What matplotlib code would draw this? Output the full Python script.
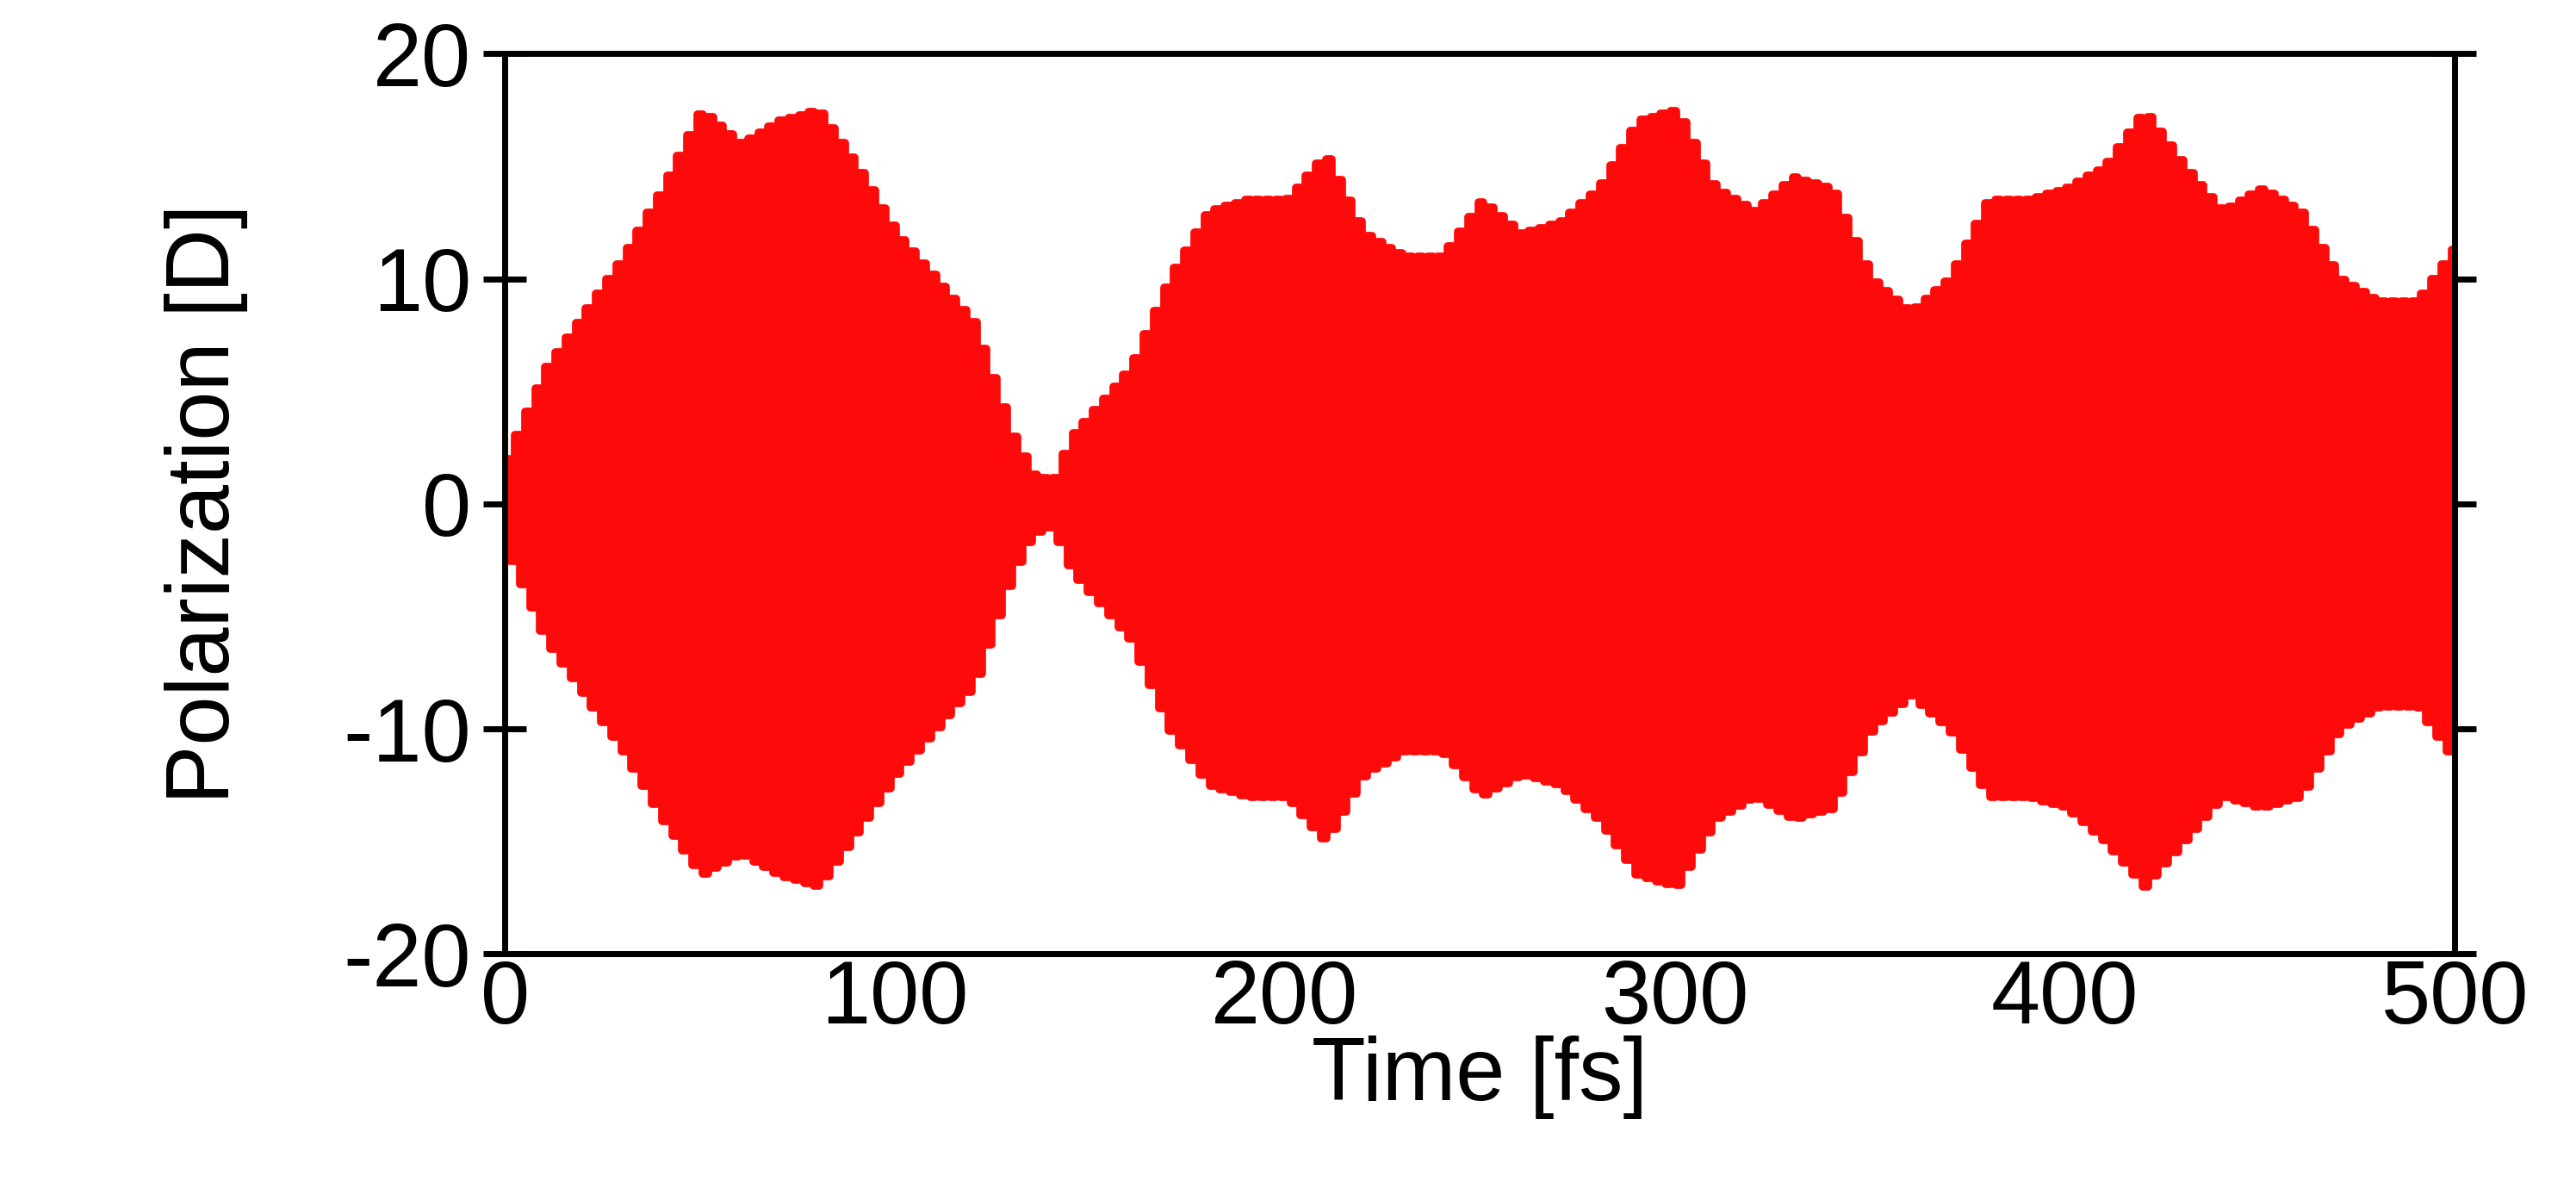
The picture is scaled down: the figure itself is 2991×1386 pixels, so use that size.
import numpy as np
import matplotlib
matplotlib.use("Agg")
import matplotlib.pyplot as plt

plt.rcParams['font.family'] = ['Liberation Sans', 'DejaVu Sans']
plt.rcParams['axes.unicode_minus'] = False

# envelope (time fs, amplitude D)
env_t = [0, 5, 10, 20, 30, 40, 50, 60, 70, 80, 90, 100, 110, 120, 130, 135, 140, 145, 150,
         160, 170, 180, 190, 200, 210, 220, 230, 240, 250, 260, 270, 280, 290, 300, 310,
         320, 330, 340, 350, 360, 370, 380, 390, 400, 410, 420, 430, 440, 450, 460, 470,
         480, 490, 500]
env_top = [2, 4, 6, 8.5, 11, 14, 17.5, 16, 17, 17.5, 15, 12, 10, 8, 3, 1.3, 1, 3, 4,
           6, 10, 13, 13.5, 13.5, 15.5, 12, 11, 11, 13.5, 12, 12.5, 14, 17, 17.5, 14,
           13, 14.5, 14, 10, 8.5, 10, 13.5, 13.5, 14, 15, 17.5, 15, 13, 14, 13, 10,
           9, 9, 11.5]
env_bot = [-2, -4, -6, -8.5, -11, -14, -16.5, -15.5, -16.5, -17, -14.5, -12, -10, -8, -3, -1.3, -1, -3, -4,
           -6, -10, -12.5, -13, -13, -15, -12, -11, -11, -13, -12, -12.5, -14, -16.5, -17, -14,
           -13, -14, -13.5, -10, -8.5, -10, -13, -13, -13.5, -15, -17, -15, -13, -13.5, -13, -10,
           -9, -9, -11.5]
period_fs = 2.6  # carrier period read from stripe spacing

half = period_fs / 2
tt = np.arange(0, 500 + 1e-9, half)
top = np.interp(tt, env_t, env_top)
bot = np.interp(tt, env_t, env_bot)
yy = np.where(np.arange(len(tt)) % 2 == 0, top, bot)
xs = np.repeat(tt, 2)[1:]
ys = np.repeat(yy, 2)[:-1]

fig = plt.figure(figsize=(29.91, 13.86), dpi=100)
ax = fig.add_axes([0.196, 0.201, 0.757, 0.754])
ax.plot(xs, ys, color='#ff0a0a', lw=7, solid_joinstyle='round', solid_capstyle='round')
ax.set_xlim(0, 500)
ax.set_ylim(-20, 20)
ax.set_xticks([0, 100, 200, 300, 400, 500])
ax.set_yticks([-20, -10, 0, 10, 20])
ax.tick_params(axis='y', direction='inout', length=36, width=5, labelsize=74, right=True, pad=10)
ax.tick_params(axis='x', direction='in', length=0, labelsize=74, pad=4)
for s in ax.spines.values():
    s.set_linewidth(5)
ax.set_xlabel('Time [fs]', fontsize=74, labelpad=-6)
ax.set_ylabel('Polarization [D]', fontsize=74, labelpad=80)
fig.savefig('out.png', dpi=100)
